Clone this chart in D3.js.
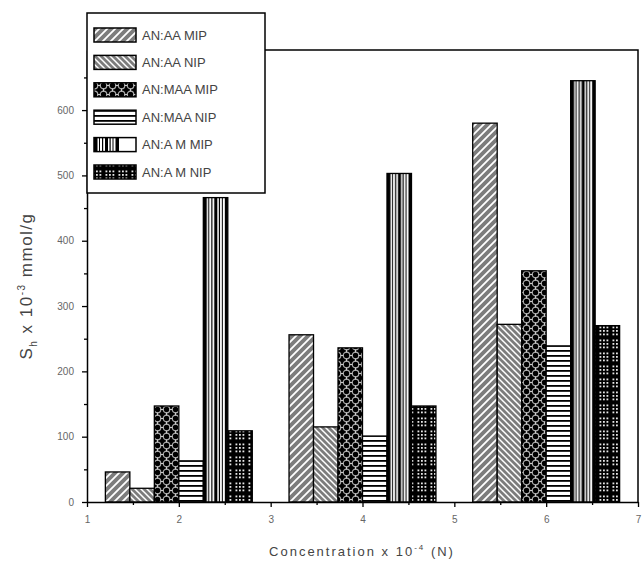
<!DOCTYPE html>
<html>
<head>
<meta charset="utf-8">
<script src="https://cdn.jsdelivr.net/npm/d3@7"></script>
<style>
  body { margin: 0; background: #fff; }
  svg { font-family: "Liberation Sans", Arial, sans-serif; }
</style>
</head>
<body>
<svg width="642" height="571"></svg>
<script>
// data
const concentrations = [2, 4, 6];
const seriesNames = ["AN:AA MIP", "AN:AA NIP", "AN:MAA MIP", "AN:MAA NIP", "AN:A M MIP", "AN:A M NIP"];
const aaMip  = [46, 256, 580];
const aaNip  = [21, 115, 272];
const maaMip = [147, 236, 354];
const maaNip = [63, 101, 239];
const amMip  = [466, 503, 645];
const amNip  = [109, 147, 270];
const seriesValues = [aaMip, aaNip, maaMip, maaNip, amMip, amNip];
const xTicks = [1, 2, 3, 4, 5, 6, 7];
const yTicks = [0, 100, 200, 300, 400, 500, 600];

const svg = d3.select("svg");
const plotL = 87, plotR = 638, plotT = 50, plotB = 502;

const x = d3.scaleLinear().domain([1, 7]).range([plotL, plotR]);
const y = d3.scaleLinear().domain([0, 692]).range([plotB, plotT]);
const offset = d3.scaleBand().domain(seriesNames).range([-0.8, 0.8]);

// ---- patterns ----
const defs = svg.append("defs");

function pattern(id, w, h, bg) {
  const p = defs.append("pattern").attr("id", id).attr("patternUnits", "userSpaceOnUse")
    .attr("width", w).attr("height", h);
  p.append("rect").attr("width", w).attr("height", h).attr("fill", bg);
  return p;
}

// 0: "/" white stripes on gray
let p = pattern("pat0", 8, 8, "#7c7c7c");
p.append("path").attr("d", "M-2,10 L10,-2 M-2,2 L2,-2 M6,10 L10,6").attr("stroke", "#fff").attr("stroke-width", 1.8);

// 1: "\" white stripes on gray
p = pattern("pat1", 6, 6, "#7c7c7c");
p.append("path").attr("d", "M-2,-2 L8,8 M4,-2 L8,2 M-2,4 L2,8").attr("stroke", "#fff").attr("stroke-width", 1.5);

// 2: black with ring lattice
p = pattern("pat2", 9, 9, "#000");
p.append("circle").attr("cx", 4.5).attr("cy", 4.5).attr("r", 3.3).attr("fill", "none")
  .attr("stroke", "#aaa").attr("stroke-width", 1.2);
p.append("path").attr("d", "M4.5,0 V1.5 M4.5,7.5 V9 M0,4.5 H1.5 M7.5,4.5 H9").attr("stroke", "#ccc").attr("stroke-width", 1.2);

// 3: horizontal stripes
p = pattern("pat3", 5, 5, "#fff");
p.append("rect").attr("y", 0).attr("width", 5).attr("height", 1.8).attr("fill", "#000");

// 4: vertical stripes, uneven widths (one set per bar)
p = defs.append("pattern").attr("id", "pat4").attr("patternUnits", "objectBoundingBox")
  .attr("patternContentUnits", "userSpaceOnUse").attr("width", 1).attr("height", 1);
p.append("rect").attr("width", 30).attr("height", 700).attr("fill", "#fff");
[[0, 3.5], [5, 1], [8, 1.2], [11, 3], [15.5, 1.2], [18.5, 1], [21.5, 3.5]].forEach(([sx, sw]) =>
  p.append("rect").attr("x", sx).attr("width", sw).attr("height", 700).attr("fill", "#000"));

// 5: black with white dot grid
p = pattern("pat5", 13, 13, "#000");
[1.5, 5, 8.5].forEach(dx => [1.5, 5, 8.5].forEach(dy =>
  p.append("rect").attr("x", dx).attr("y", dy).attr("width", 1.8).attr("height", 1.8).attr("fill", "#e6e6e6")));

// ---- frame (top and right) ----
svg.append("path")
  .attr("d", `M${plotL},${plotT} H${plotR} V${plotB}`)
  .attr("fill", "none").attr("stroke", "#000").attr("stroke-width", 1.5);

// ---- bars ----
seriesNames.forEach((name, si) => {
  svg.append("g").selectAll("rect")
    .data(concentrations.map((c, ci) => ({ c, v: seriesValues[si][ci] })))
    .join("rect")
    .attr("x", d => x(d.c + offset(name)))
    .attr("width", d => x(d.c + offset(name) + offset.bandwidth()) - x(d.c + offset(name)))
    .attr("y", d => y(d.v))
    .attr("height", d => y(0) - y(d.v))
    .attr("fill", `url(#pat${si})`)
    .attr("stroke", "#000").attr("stroke-width", 1.3);
});

// ---- axes ----
const xAxis = svg.append("g").attr("transform", `translate(0,${plotB})`)
  .call(d3.axisBottom(x).tickValues(xTicks).tickFormat(d3.format("d")).tickSize(5).tickSizeOuter(0));
svg.append("g").attr("transform", `translate(0,${plotB})`)
  .call(d3.axisBottom(x).tickValues(d3.range(1.5, 7, 1)).tickFormat("").tickSize(3).tickSizeOuter(0))
  .select(".domain").remove();

const yAxis = svg.append("g").attr("transform", `translate(${plotL},0)`)
  .call(d3.axisLeft(y).tickValues(yTicks).tickFormat(d3.format("d")).tickSize(5).tickSizeOuter(0));
svg.append("g").attr("transform", `translate(${plotL},0)`)
  .call(d3.axisLeft(y).tickValues(d3.range(50, 692, 100)).tickFormat("").tickSize(3).tickSizeOuter(0))
  .select(".domain").remove();

svg.selectAll(".domain").attr("stroke-width", 1.5);
svg.selectAll(".tick line").attr("stroke-width", 1.3);
xAxis.selectAll("text").attr("font-size", 10).attr("fill", "#666").attr("dy", "1.3em");
yAxis.selectAll("text").attr("font-size", 10).attr("fill", "#666").attr("dx", "-0.5em");

// ---- axis titles ----
const yt = svg.append("text")
  .attr("transform", "translate(32,286) rotate(-90)")
  .attr("text-anchor", "middle").attr("font-size", 17).attr("fill", "#444")
  .attr("letter-spacing", 1.5);
yt.append("tspan").text("S");
yt.append("tspan").attr("font-size", 10).attr("dy", 5).text("h");
yt.append("tspan").attr("dy", -5).text(" x 10");
yt.append("tspan").attr("font-size", 10).attr("dy", -7).text("-3");
yt.append("tspan").attr("dy", 7).text(" mmol/g");

const xt = svg.append("text")
  .attr("x", 362).attr("y", 556)
  .attr("text-anchor", "middle").attr("font-size", 13).attr("fill", "#444")
  .attr("letter-spacing", 2);
xt.append("tspan").text("Concentration x 10");
xt.append("tspan").attr("font-size", 8).attr("dy", -6).text("-4");
xt.append("tspan").attr("dy", 6).text(" (N)");

// ---- legend ----
const lg = svg.append("g");
lg.append("rect").attr("x", 87).attr("y", 13).attr("width", 178).attr("height", 180)
  .attr("fill", "#fff").attr("stroke", "#000").attr("stroke-width", 1.5);
const row = d3.scalePoint().domain(seriesNames).range([35, 172]);
seriesNames.forEach((name, si) => {
  lg.append("rect").attr("x", 94).attr("y", row(name) - 7).attr("width", 42).attr("height", 14)
    .attr("fill", `url(#pat${si})`).attr("stroke", "#000").attr("stroke-width", 1.5);
  lg.append("text").attr("x", 142).attr("y", row(name)).attr("dy", "0.36em")
    .attr("font-size", 13).attr("fill", "#444").text(name);
});
</script>
</body>
</html>
